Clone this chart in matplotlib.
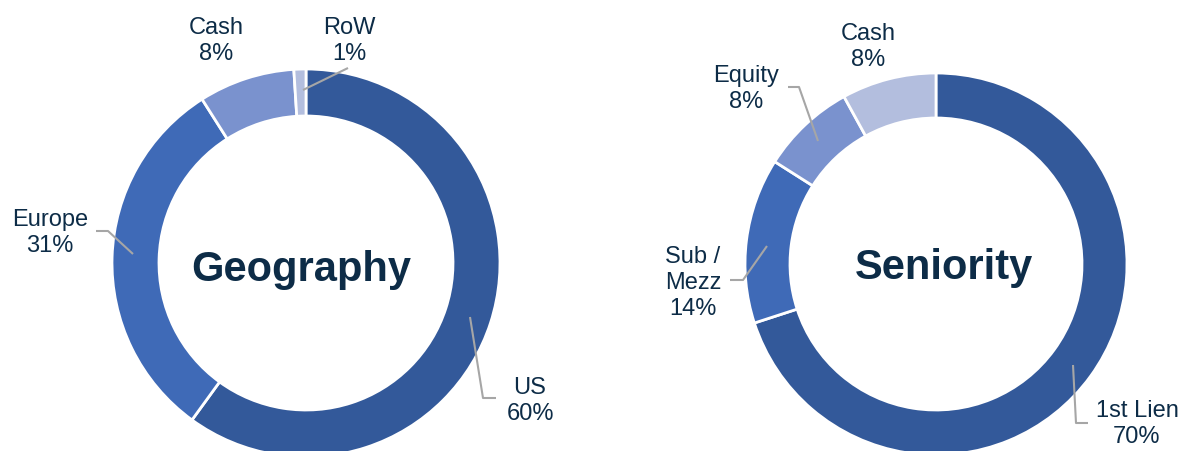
import matplotlib.pyplot as plt

plt.rcParams['font.family'] = ['Liberation Sans', 'DejaVu Sans']

W, H = 1187, 452

# --- data ---
geo_labels = ['US', 'Europe', 'Cash', 'RoW']
geo_values = [60, 31, 8, 1]
sen_labels = ['1st Lien', 'Sub /\nMezz', 'Equity', 'Cash']
sen_values = [70, 14, 8, 8]

dark = '#33599a'
mid = '#3f6ab7'
light = '#7a92ce'
pale = '#b3bede'
geo_colors = [dark, mid, light, pale]
sen_colors = [dark, mid, light, pale]

text_color = '#0d2c47'
line_color = '#a6a6a6'

fig = plt.figure(figsize=(W / 100, H / 100), dpi=100)
ax = fig.add_axes([0, 0, 1, 1])


def py(y):
    # pixel row (top origin) -> data y
    return H - y


def donut(values, colors, cx, cy, r, width):
    ax.pie(values, colors=colors, center=(cx, py(cy)), radius=r,
           startangle=90, counterclock=False,
           wedgeprops=dict(width=width, edgecolor='white', linewidth=2))


donut(geo_values, geo_colors, 306, 264, 194, 47)
donut(sen_values, sen_colors, 936, 265, 191, 45)

# labels: (text, x, y, leader line points)
labels = [
    (geo_labels[0] + f'\n{geo_values[0]}%', 530, 401, [(470, 318), (483, 399), (496, 399)]),
    (geo_labels[1] + f'\n{geo_values[1]}%', 50, 233, [(96, 232), (108, 232), (133, 255)]),
    (geo_labels[2] + f'\n{geo_values[2]}%', 216, 41, None),
    (geo_labels[3] + f'\n{geo_values[3]}%', 349, 41, [(303, 91), (348, 69)]),
    (sen_labels[0] + f'\n{sen_values[0]}%', 1137, 424, [(1073, 366), (1076, 424), (1088, 424)]),
    (sen_labels[1] + f'\n{sen_values[1]}%', 693, 283, [(730, 281), (743, 281), (767, 247)]),
    (sen_labels[2] + f'\n{sen_values[2]}%', 746, 89, [(788, 88), (799, 88), (818, 142)]),
    (sen_labels[3] + f'\n{sen_values[3]}%', 868, 47, None),
]

for txt, x, y, pts in labels:
    ax.text(x, py(y), txt, ha='center', va='center', fontsize=17,
            color=text_color, linespacing=1.25)
    if pts:
        ax.plot([p[0] for p in pts], [py(p[1]) for p in pts],
                color=line_color, linewidth=1.5, solid_capstyle='butt')

ax.text(301, py(270), 'Geography', ha='center', va='center', fontsize=30,
        fontweight='bold', color=text_color)
ax.text(944, py(268), 'Seniority', ha='center', va='center', fontsize=30,
        fontweight='bold', color=text_color)

ax.set_xlim(0, W)
ax.set_ylim(0, H)
ax.set_aspect('equal')
ax.axis('off')

fig.savefig('out.png', dpi=100, facecolor='white')
